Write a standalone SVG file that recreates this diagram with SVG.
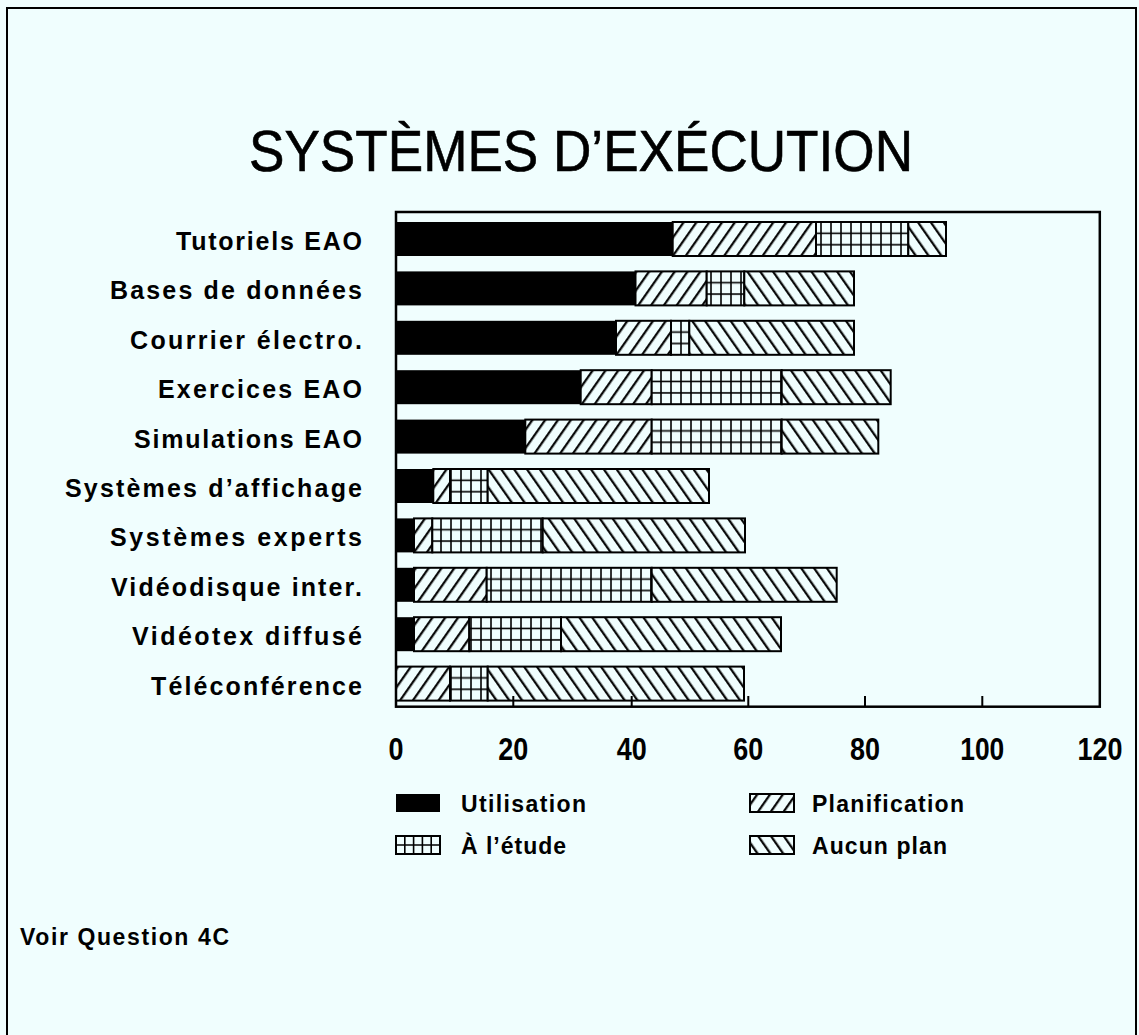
<svg xmlns="http://www.w3.org/2000/svg" width="1139" height="1035" viewBox="0 0 1139 1035">
<style>
.bg{fill:#f0fefe}
.lbl{font-family:"Liberation Sans",Arial,sans-serif;font-weight:bold;font-size:25px;fill:#000}
.ax{font-family:"Liberation Sans",Arial,sans-serif;font-weight:bold;font-size:31px;fill:#000;text-anchor:middle}
.leg{font-family:"Liberation Sans",Arial,sans-serif;font-weight:bold;font-size:23px;fill:#000}
.blk{fill:#000}
.seg{stroke:#000;stroke-width:2}
.plan{fill:url(#pPlan)}
.etu{fill:url(#pGrid)}
.auc{fill:url(#pAuc)}
</style>
<defs>
<pattern id="pPlan" patternUnits="userSpaceOnUse" width="10.5" height="20" patternTransform="rotate(35)">
<rect width="10.5" height="20" fill="#f0fefe"/>
<line x1="5" y1="0" x2="5" y2="20" stroke="#000" stroke-width="2.2"/>
</pattern>
<pattern id="pAuc" patternUnits="userSpaceOnUse" width="10.5" height="20" patternTransform="rotate(-35)">
<rect width="10.5" height="20" fill="#f0fefe"/>
<line x1="5" y1="0" x2="5" y2="20" stroke="#000" stroke-width="2.2"/>
</pattern>
<pattern id="pGrid" patternUnits="userSpaceOnUse" x="396" y="222" width="10" height="49.4">
<rect width="10" height="49.4" fill="#f0fefe"/>
<line x1="5" y1="0" x2="5" y2="49.4" stroke="#000" stroke-width="1.6"/>
<line x1="0" y1="11.3" x2="10" y2="11.3" stroke="#000" stroke-width="1.6"/>
<line x1="0" y1="22.7" x2="10" y2="22.7" stroke="#000" stroke-width="1.6"/>
</pattern>
</defs>
<rect class="bg" x="0" y="0" width="1139" height="1035"/>
<rect x="7" y="8" width="1129" height="1040" fill="none" stroke="#000" stroke-width="2"/>
<text x="581" y="171" font-family="'Liberation Sans',Arial,sans-serif" font-size="58" text-anchor="middle" textLength="664" lengthAdjust="spacingAndGlyphs" stroke="#000" stroke-width="0.6">SYSTÈMES D’EXÉCUTION</text>

<g id="labels">
<text class="lbl" x="362" y="250" text-anchor="end" textLength="186" lengthAdjust="spacing">Tutoriels EAO</text>
<text class="lbl" x="362" y="299.4" text-anchor="end" textLength="252" lengthAdjust="spacing">Bases de données</text>
<text class="lbl" x="362" y="348.8" text-anchor="end" textLength="232" lengthAdjust="spacing">Courrier électro.</text>
<text class="lbl" x="362" y="398.2" text-anchor="end" textLength="204" lengthAdjust="spacing">Exercices EAO</text>
<text class="lbl" x="362" y="447.6" text-anchor="end" textLength="228" lengthAdjust="spacing">Simulations EAO</text>
<text class="lbl" x="362" y="497" text-anchor="end" textLength="297" lengthAdjust="spacing">Systèmes d’affichage</text>
<text class="lbl" x="362" y="546.4" text-anchor="end" textLength="252" lengthAdjust="spacing">Systèmes experts</text>
<text class="lbl" x="362" y="595.8" text-anchor="end" textLength="251" lengthAdjust="spacing">Vidéodisque inter.</text>
<text class="lbl" x="362" y="645.2" text-anchor="end" textLength="230" lengthAdjust="spacing">Vidéotex diffusé</text>
<text class="lbl" x="362" y="694.6" text-anchor="end" textLength="211" lengthAdjust="spacing">Téléconférence</text>
</g>

<g id="bars">
<g id="bar-tutoriels">
<rect class="blk" x="396" y="222" width="276.7" height="34"/>
<rect class="seg plan" x="672.7" y="222" width="143.3" height="34"/>
<rect class="seg etu" x="816" y="222" width="92.3" height="34"/>
<rect class="seg auc" x="908.3" y="222" width="37.7" height="34"/>
</g>
<g id="bar-bases">
<rect class="blk" x="396" y="271.4" width="239.5" height="34"/>
<rect class="seg plan" x="635.5" y="271.4" width="71.2" height="34"/>
<rect class="seg etu" x="706.7" y="271.4" width="37.6" height="34"/>
<rect class="seg auc" x="744.3" y="271.4" width="109.7" height="34"/>
</g>
<g id="bar-courrier">
<rect class="blk" x="396" y="320.8" width="220" height="34"/>
<rect class="seg plan" x="616" y="320.8" width="55" height="34"/>
<rect class="seg etu" x="671" y="320.8" width="18.3" height="34"/>
<rect class="seg auc" x="689.3" y="320.8" width="164.7" height="34"/>
</g>
<g id="bar-exercices">
<rect class="blk" x="396" y="370.2" width="184.7" height="34"/>
<rect class="seg plan" x="580.7" y="370.2" width="71" height="34"/>
<rect class="seg etu" x="651.7" y="370.2" width="130" height="34"/>
<rect class="seg auc" x="781.7" y="370.2" width="109" height="34"/>
</g>
<g id="bar-simulations">
<rect class="blk" x="396" y="419.6" width="129.3" height="34"/>
<rect class="seg plan" x="525.3" y="419.6" width="126.4" height="34"/>
<rect class="seg etu" x="651.7" y="419.6" width="130" height="34"/>
<rect class="seg auc" x="781.7" y="419.6" width="96.6" height="34"/>
</g>
<g id="bar-affichage">
<rect class="blk" x="396" y="469" width="37.3" height="34"/>
<rect class="seg plan" x="433.3" y="469" width="16.7" height="34"/>
<rect class="seg etu" x="450" y="469" width="37.7" height="34"/>
<rect class="seg auc" x="487.7" y="469" width="221.3" height="34"/>
</g>
<g id="bar-experts">
<rect class="blk" x="396" y="518.4" width="18" height="34"/>
<rect class="seg plan" x="414" y="518.4" width="18.3" height="34"/>
<rect class="seg etu" x="432.3" y="518.4" width="110.4" height="34"/>
<rect class="seg auc" x="542.7" y="518.4" width="202.3" height="34"/>
</g>
<g id="bar-videodisque">
<rect class="blk" x="396" y="567.8" width="18" height="34"/>
<rect class="seg plan" x="414" y="567.8" width="72.7" height="34"/>
<rect class="seg etu" x="486.7" y="567.8" width="165" height="34"/>
<rect class="seg auc" x="651.7" y="567.8" width="185" height="34"/>
</g>
<g id="bar-videotex">
<rect class="blk" x="396" y="617.2" width="18" height="34"/>
<rect class="seg plan" x="414" y="617.2" width="55.3" height="34"/>
<rect class="seg etu" x="469.3" y="617.2" width="91.7" height="34"/>
<rect class="seg auc" x="561" y="617.2" width="220" height="34"/>
</g>
<g id="bar-teleconference">
<rect class="seg plan" x="396" y="666.6" width="54" height="34"/>
<rect class="seg etu" x="450" y="666.6" width="37.7" height="34"/>
<rect class="seg auc" x="487.7" y="666.6" width="256.3" height="34"/>
</g>
</g>

<g id="axes" stroke="#000" fill="none">
<rect x="396" y="212" width="703.8" height="494.7" stroke-width="2.5"/>
<path d="M513.3 696V707M631.7 696V707M748.3 696V707M865 696V707M982.3 696V707" stroke-width="2"/>
</g>
<g id="ticklabels">
<text class="ax" x="396" y="760" textLength="15" lengthAdjust="spacingAndGlyphs">0</text>
<text class="ax" x="513.3" y="760" textLength="30" lengthAdjust="spacingAndGlyphs">20</text>
<text class="ax" x="631.7" y="760" textLength="30" lengthAdjust="spacingAndGlyphs">40</text>
<text class="ax" x="748.3" y="760" textLength="30" lengthAdjust="spacingAndGlyphs">60</text>
<text class="ax" x="865" y="760" textLength="30" lengthAdjust="spacingAndGlyphs">80</text>
<text class="ax" x="982.3" y="760" textLength="44" lengthAdjust="spacingAndGlyphs">100</text>
<text class="ax" x="1100" y="760" textLength="45" lengthAdjust="spacingAndGlyphs">120</text>
</g>

<g id="legend">
<g id="leg-utilisation">
<rect class="blk" x="396" y="794" width="44" height="18"/>
<text class="leg" x="461" y="812" textLength="125" lengthAdjust="spacing">Utilisation</text>
</g>
<g id="leg-planification">
<rect class="seg plan" x="750" y="794" width="44" height="18"/>
<text class="leg" x="812" y="812" textLength="152" lengthAdjust="spacing">Planification</text>
</g>
<g id="leg-etude">
<rect x="396" y="836" width="44" height="18" fill="#f0fefe" stroke="#000" stroke-width="2"/>
<path d="M396 845H440M404.8 836V854M413.6 836V854M422.4 836V854M431.2 836V854" stroke="#000" stroke-width="1.6"/>
<text class="leg" x="461" y="854" textLength="105" lengthAdjust="spacing">À l’étude</text>
</g>
<g id="leg-aucun">
<rect class="seg auc" x="750" y="836" width="44" height="18"/>
<text class="leg" x="812" y="854" textLength="135" lengthAdjust="spacing">Aucun plan</text>
</g>
</g>

<text class="leg" x="20" y="945" textLength="209" lengthAdjust="spacing">Voir Question 4C</text>
</svg>
